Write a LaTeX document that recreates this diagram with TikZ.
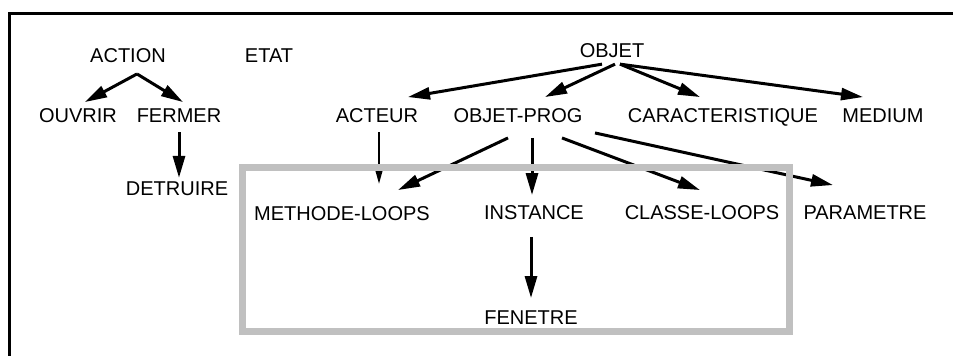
\documentclass[tikz,border=0pt]{standalone}
\usepackage{fontspec}
\setmainfont{Liberation Sans}
\usetikzlibrary{arrows.meta}
\definecolor{boxgray}{RGB}{192,192,192}
\tikzset{
  lbl/.style={inner sep=0pt, outer sep=0pt, text height=14.3pt, text depth=0pt,
              font=\fontsize{20}{20}\selectfont},
  arr/.style={line width=3pt, -{Triangle[length=22pt,width=12pt]}},
  thinarr/.style={line width=2pt, -{Triangle[length=14pt,width=7pt]}},
  frame/.style={line width=3pt},
  group/.style={draw=boxgray, line width=7pt}
}
\begin{document}
\begin{tikzpicture}[x=1pt, y=-1pt]
\useasboundingbox (0,0) rectangle (953,356);
\fill[white] (0,0) rectangle (953,356);

% outer frame (only top and left edges fall inside the page)
\draw[frame] (965,13.5) -- (9.5,13.5) -- (9.5,370);

% labels
\node[lbl] (action)   at (128,55)  {ACTION};
\node[lbl] (etat)     at (269,55)  {ETAT};
\node[lbl] (ouvrir)   at (78,115)  {OUVRIR};
\node[lbl] (fermer)   at (179,115) {FERMER};
\node[lbl] (detruire) at (177,188) {DETRUIRE};
\node[lbl] (objet)    at (612,50)  {OBJET};
\node[lbl] (acteur)   at (377,115) {ACTEUR};
\node[lbl] (objprog)  at (518,115) {OBJET-PROG};
\node[lbl] (carac)    at (723,115) {CARACTERISTIQUE};
\node[lbl] (medium)   at (883,115) {MEDIUM};
\node[lbl] (methode)  at (342,213) {METHODE-LOOPS};
\node[lbl] (instance) at (534,212) {INSTANCE};
\node[lbl] (classe)   at (702,212) {CLASSE-LOOPS};
\node[lbl] (param)    at (865,212) {PARAMETRE};
\node[lbl] (fenetre)  at (531,317) {FENETRE};

% ACTION branch
\draw[arr] ([shift={(9,11.8)}]action.south) -- ([shift={(7,-5.8)}]ouvrir.north);
\draw[arr] ([shift={(9,11.8)}]action.south) -- ([shift={(4,-5.8)}]fermer.north);
\draw[arr] ([shift={(0,10)}]fermer.south) -- ([shift={(2,-3)}]detruire.north);

% OBJET branch
\draw[arr] ([shift={(-10,7)}]objet.south) -- ([shift={(31,-10.8)}]acteur.north);
\draw[arr] ([shift={(3,7)}]objet.south) -- ([shift={(27,-10.8)}]objprog.north);
\draw[arr] ([shift={(8,7)}]objet.south) -- ([shift={(-23,-10.8)}]carac.north);
\draw[arr] ([shift={(8,7)}]objet.south) -- ([shift={(-20,-10.8)}]medium.north);

% second level
\draw[thinarr] ([shift={(2,10)}]acteur.south) -- ([shift={(37,-21.8)}]methode.north);
\draw[arr] ([shift={(-10,15.8)}]objprog.south) -- ([shift={(56,-15.8)}]methode.north);
\draw[arr] ([shift={(14,15.8)}]objprog.south) -- ([shift={(-2,-9.8)}]instance.north);
\draw[arr] ([shift={(44,15.8)}]objprog.south) -- ([shift={(-2,-14.8)}]classe.north);
\draw[arr] ([shift={(77,10.8)}]objprog.south) -- ([shift={(-32,-19.8)}]param.north);
\draw[arr] ([shift={(-3,17.8)}]instance.south) -- ([shift={(0,-11.8)}]fenetre.north);

% grey grouping box, drawn over the connectors
\draw[group] (242,167) rectangle (789,331);
\end{tikzpicture}
\end{document}
